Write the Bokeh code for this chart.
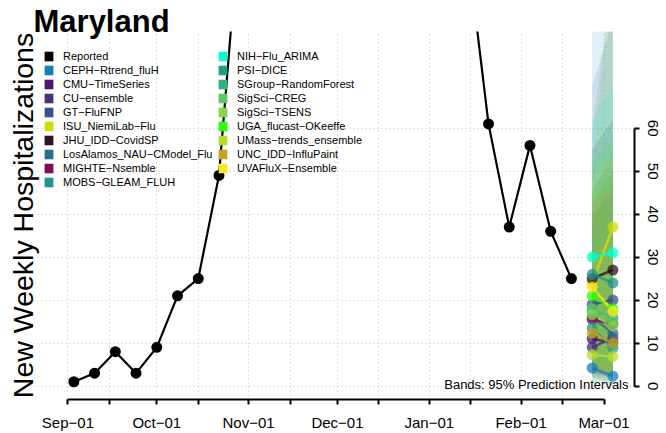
import pandas as pd
from bokeh.plotting import figure
from bokeh.models import (Range1d, FixedTicker, DatetimeTickFormatter, Label,
                          Legend, LegendItem, Title)
from bokeh.embed import file_html
from bokeh.resources import INLINE

# ---------------- data ----------------
reported_dates = pd.date_range("2022-09-03", periods=25, freq="7D")
reported_values = [1, 3, 8, 3, 9, 21, 25, 49, 108, 180, 260, 350, 480, 520,
                   430, 330, 250, 190, 140, 101, 61, 37, 56, 36, 25]

forecast_dates = pd.to_datetime(["2023-02-25", "2023-03-04"])

models = ["CEPH\u2212Rtrend_fluH", "CMU\u2212TimeSeries", "CU\u2212ensemble",
          "GT\u2212FluFNP", "ISU_NiemiLab\u2212Flu", "JHU_IDD\u2212CovidSP",
          "LosAlamos_NAU\u2212CModel_Flu", "MIGHTE\u2212Nsemble",
          "MOBS\u2212GLEAM_FLUH", "NIH\u2212Flu_ARIMA", "PSI\u2212DICE",
          "SGroup\u2212RandomForest", "SigSci\u2212CREG", "SigSci\u2212TSENS",
          "UGA_flucast\u2212OKeeffe", "UMass\u2212trends_ensemble",
          "UNC_IDD\u2212InfluPaint", "UVAFluX\u2212Ensemble"]
model_colors = ["#1380b8", "#4a186e", "#472f7d", "#3b4f8b", "#d0dc07",
                "#2e1222", "#2b6c8e", "#7d0d58", "#21948b", "#00ffcc",
                "#1f9f85", "#2db37b", "#5fc862", "#87d54a", "#2aff00",
                "#b5de2b", "#c7a11f", "#fde725"]
median_h1 = [4.2, 11.0, 9.0, 19.0, 24.0, 25.0, 16.0, 15.5, 26.0, 30.0,
             13.5, 17.5, 18.0, 16.6, 21.0, 7.3, 12.3, 23.0]
median_h2 = [2.3, 10.0, 11.2, 20.0, 37.0, 27.0, 12.3, 14.5, 24.0, 31.0,
             8.9, 16.0, 15.4, 14.0, 18.0, 6.9, 10.0, 17.4]
lower_h1 = [1, 3, 2, 4, 5, 3, 2, 3, 4, 5, 2, 4, 4, 3, 5, 1, 3, 4]
upper_h1 = [95, 40, 38, 45, 50, 55, 70, 42, 60, 62, 40, 46, 46, 44, 52, 30, 44, 48]
lower_h2 = [0, 2, 2, 3, 4, 3, 1, 2, 3, 4, 0, 3, 2, 2, 3, 1, 2, 3]
upper_h2 = [90, 45, 48, 55, 100, 62, 85, 50, 95, 70, 44, 52, 50, 48, 58, 36, 46, 54]

month_starts = pd.date_range("2022-09-01", "2023-03-01", freq="MS")
mid_months = [d + pd.Timedelta(days=14) for d in month_starts[:-1]]
y_ticks = [0, 10, 20, 30, 40, 50, 60]

FONT = "Liberation Sans"
NAN = float("nan")


def ms(d):
    return pd.Timestamp(d).value / 1e6


# ---------------- figure ----------------
p = figure(width=666, height=433, x_axis_type="datetime",
           y_axis_location="right",
           x_range=Range1d(pd.Timestamp("2022-08-20 09:00"),
                           pd.Timestamp("2023-03-11 07:00")),
           y_range=Range1d(-3.13, 82.5),
           output_backend="svg", toolbar_location=None,
           min_border_left=33, min_border_right=32,
           min_border_top=31, min_border_bottom=33)
p.outline_line_color = None

# title (above) and y label (left)
p.title.text = "Maryland"
p.title.align = "left"
p.title.offset = 0
p.title.standoff = -15
p.title.text_font = FONT
p.title.text_font_style = "bold"
p.title.text_font_size = "31px"
p.title.text_color = "black"

p.add_layout(Title(text="New Weekly Hospitalizations", align="center",
                   standoff=-10, text_font=FONT, text_font_style="normal",
                   text_font_size="28.5px", text_color="black"), "left")

# x axis
p.xaxis.ticker = FixedTicker(ticks=[ms(d) for d in month_starts],
                             minor_ticks=[ms(d) for d in mid_months])
fmt = "%b\u2212%d"
p.xaxis.formatter = DatetimeTickFormatter(
    microseconds=fmt, milliseconds=fmt, seconds=fmt, minsec=fmt, minutes=fmt,
    hourmin=fmt, hours=fmt, days=fmt, months=fmt, years=fmt)
p.xaxis.bounds = (ms(month_starts[0]), ms(month_starts[-1]))
for ax in (p.xaxis, p.yaxis):
    ax.axis_line_width = 2
    ax.axis_line_color = "black"
    ax.major_tick_line_width = 2
    ax.major_tick_line_color = "black"
    ax.major_tick_out = 5
    ax.major_tick_in = 0
    ax.major_label_text_font = FONT
    ax.major_label_text_font_size = "15px"
    ax.major_label_text_color = "black"
p.xaxis.major_label_standoff = 9
p.xaxis.minor_tick_line_width = 2
p.xaxis.minor_tick_line_color = "black"
p.xaxis.minor_tick_out = 5
p.xaxis.minor_tick_in = 0

p.yaxis.ticker = FixedTicker(ticks=y_ticks)
p.yaxis.bounds = (0, 60)
p.yaxis.minor_tick_line_color = None
p.yaxis.major_label_orientation = "vertical"
p.yaxis.major_label_standoff = 8

for g in (p.xgrid, p.ygrid):
    g.grid_line_color = "#c4c4c4"
    g.grid_line_dash = "1 3"
    g.grid_line_width = 1
p.xgrid.minor_grid_line_color = "#c4c4c4"
p.xgrid.minor_grid_line_dash = "1 3"

# ---------------- bands ----------------
x1, x2 = forecast_dates[0], forecast_dates[1]
band_xs = [[x1, x2, x2, x1] for _ in models]
band_ys = [[lower_h1[i], lower_h2[i], upper_h2[i], upper_h1[i]]
           for i in range(len(models))]
p.patches(xs=band_xs, ys=band_ys, fill_color=model_colors, fill_alpha=0.12,
          line_color=None)

# ---------------- forecast medians ----------------
p.multi_line(xs=[[x1, x2] for _ in models],
             ys=[[median_h1[i], median_h2[i]] for i in range(len(models))],
             line_color=model_colors, line_width=2.5, line_alpha=0.8)
p.scatter(x=[x1] * len(models) + [x2] * len(models),
          y=median_h1 + median_h2, size=11,
          fill_color=model_colors + model_colors, line_color=None,
          fill_alpha=0.75)

# ---------------- reported ----------------
p.line(reported_dates, reported_values, line_color="black", line_width=2.2)
p.scatter(reported_dates, reported_values, size=11, fill_color="black",
          line_color=None)

# ---------------- legend ----------------
names = ["Reported"] + models
cols = ["black"] + model_colors
items = []
for n, c in zip(names, cols):
    r = p.quad(left=[NAN], right=[NAN], top=[NAN], bottom=[NAN],
               fill_color=c, line_color=None)
    items.append(LegendItem(label=n, renderers=[r]))


def make_legend(its, loc):
    return Legend(items=its, location=loc, orientation="vertical",
                  padding=0, margin=0, spacing=2, glyph_height=12,
                  glyph_width=11, label_height=12, label_standoff=9,
                  label_text_font=FONT, label_text_font_size="11px",
                  label_text_color="black", border_line_color=None,
                  background_fill_alpha=0)


p.add_layout(make_legend(items[:10], (10, 211)))
p.add_layout(make_legend(items[10:], (184, 225)))

# ---------------- note ----------------
p.add_layout(Label(x=595, y=15.5, x_units="screen", y_units="screen",
                   text="Bands: 95% Prediction Intervals", text_font=FONT,
                   text_font_size="13px", text_color="black",
                   text_align="right", text_baseline="middle"))

open("out.html", "w").write(file_html(p, INLINE))
